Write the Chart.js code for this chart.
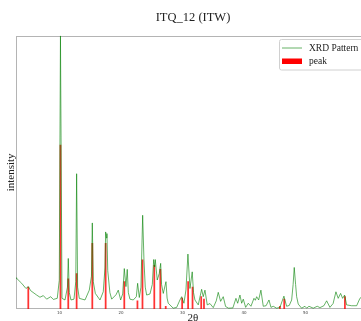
<!DOCTYPE html>
<html>
<head>
<meta charset="utf-8">
<script src="https://cdn.jsdelivr.net/npm/chart.js@4/dist/chart.umd.min.js"></script>
<style>
  html, body { margin: 0; padding: 0; background: #fff; overflow: hidden; }
  #wrap { width: 386px; height: 330px; }
</style>
</head>
<body>
<div id="wrap"><canvas id="c" width="386" height="330"></canvas></div>
<script>
// ---- data ----
const chartTitle = 'ITQ_12 (ITW)';
const xTicks = [10, 20, 30, 40, 50, 60];

// XRD pattern: 2θ positions and intensities
const patternX = [2.93, 3.04, 3.85, 4.55, 4.93, 5.32, 6.29, 6.83, 7.37, 7.92, 8.57, 9.0, 9.64, 9.97, 10.16, 10.41, 10.9, 11.3, 11.43, 11.6, 11.87, 12.36, 12.65, 12.79, 12.95, 13.22, 14.15, 14.85, 15.2, 15.34, 15.5, 15.83, 16.59, 17.12, 17.4, 17.51, 17.62, 17.72, 17.85, 18.2, 18.49, 19.19, 19.56, 19.95, 20.28, 20.54, 20.81, 21.02, 21.2, 21.46, 22.0, 22.5, 22.71, 22.98, 23.25, 23.53, 23.74, 23.95, 24.18, 24.72, 25.1, 25.32, 25.48, 25.58, 25.9, 26.23, 26.46, 26.6, 26.88, 27.32, 27.5, 27.69, 28.5, 29.06, 29.59, 29.87, 30.24, 30.57, 30.89, 31.22, 31.59, 31.8, 32.03, 32.57, 33.12, 33.38, 33.66, 34.03, 34.47, 35.01, 35.5, 35.82, 36.21, 36.63, 37.02, 37.5, 38.2, 38.7, 38.98, 39.35, 39.63, 39.89, 40.28, 40.7, 41.14, 41.63, 41.85, 42.07, 42.39, 42.76, 43.14, 43.6, 44.07, 44.39, 44.76, 45.32, 45.85, 46.5, 46.94, 47.37, 47.76, 48.0, 48.18, 48.4, 48.57, 48.83, 49.38, 49.92, 50.2, 50.57, 51.27, 51.92, 52.36, 53.0, 53.45, 53.98, 54.5, 54.96, 55.33, 55.72, 56.05, 56.37, 56.7, 57.51, 58.33, 58.86, 59.5, 60.5];
const patternY = [11.4, 11.2, 9.4, 7.5, 8.2, 6.7, 5.1, 4.3, 4.9, 3.6, 4.5, 3.5, 3.9, 10.5, 100, 3.9, 3.3, 8, 18.5, 6, 3.3, 3.6, 10, 49.5, 8, 3.9, 3.3, 6.9, 12, 31.5, 10, 5.7, 3.3, 6.3, 15, 28.2, 26, 27.6, 14, 6, 3.6, 5.2, 6.9, 3.3, 5.5, 14.8, 8.2, 14.5, 6, 3.6, 3.3, 4.5, 9.4, 4.2, 8, 34.3, 17.9, 8, 5.1, 5.5, 9, 18.1, 15.4, 18.1, 10.6, 13, 16.7, 9, 5.7, 10, 4, 2.1, 0.3, 0.6, 3.3, 4.5, 2.1, 7, 20.1, 7.5, 13.6, 6, 3.3, 1.5, 7.2, 4.5, 6.9, 1.5, 2, 0.5, 3, 6.1, 2.8, 4.5, 0.9, 0.3, 0.4, 3.9, 2.1, 5.1, 2.1, 3.6, 0.6, 2.1, 1, 3.9, 3.2, 4.5, 3.3, 6.9, 1, 1.2, 3.3, 0.6, 1, 0.3, 0.6, 4.7, 1, 1.3, 3.3, 9, 15.2, 9, 4.5, 1.8, 0.3, 1, 0.3, 1, 0.3, 1, 0.5, 1.2, 3, 0.6, 2, 6.3, 3.9, 5.7, 3.9, 5.1, 1.5, 1.2, 1.2, 3.9, 5, 4];

// reference peaks
const peakX = [4.93, 10.16, 11.43, 12.79, 15.34, 17.51, 20.54, 22.68, 23.5, 25.42, 26.4, 27.28, 29.95, 30.92, 31.64, 33.05, 33.5, 45.85, 46.55, 56.42];
const peakY = [8, 60, 11, 13, 24, 24, 10, 3, 18, 16, 14.5, 1, 4, 10, 8, 4.5, 3.6, 1, 3.6, 4.5];

const seriesNames = ['XRD Pattern', 'peak'];

const lineColor = 'rgba(0,128,0,0.6)';
const barColor = 'rgba(255,0,0,0.8)';
const serif = "'Liberation Serif', 'DejaVu Serif', serif";

const framePlugin = {
  id: 'frame',
  beforeDatasetsDraw(chart) {
    const {ctx, chartArea: a} = chart;
    ctx.save();
    ctx.strokeStyle = '#b4b4b4';
    ctx.lineWidth = 1;
    ctx.strokeRect(Math.round(a.left) + 0.5, Math.round(a.top) + 0.5,
                   Math.round(a.right - a.left) - 1, Math.round(a.bottom - a.top) - 1);
    ctx.restore();
  }
};

const legendPlugin = {
  id: 'boxLegend',
  afterDraw(chart) {
    const {ctx} = chart;
    const ds = chart.data.datasets;
    const x0 = 279, y0 = 39, w = 88, h = 30.5;
    ctx.save();
    ctx.fillStyle = 'rgba(255,255,255,0.8)';
    ctx.strokeStyle = '#d0d0d0';
    ctx.lineWidth = 1;
    ctx.beginPath();
    ctx.roundRect(x0 + 0.5, y0 + 0.5, w, h, 2);
    ctx.fill();
    ctx.stroke();
    // line item
    ctx.strokeStyle = ds[0].borderColor;
    ctx.lineWidth = 1;
    ctx.beginPath();
    ctx.moveTo(282, 48);
    ctx.lineTo(302, 48);
    ctx.stroke();
    // bar item
    ctx.fillStyle = 'red';
    ctx.fillRect(282, 58.5, 20, 5.5);
    ctx.fillStyle = '#222';
    ctx.font = "9.5px " + serif;
    ctx.textBaseline = 'middle';
    ctx.fillText(ds[0].label, 309, 48);
    ctx.fillText(ds[1].label, 309, 61.5);
    ctx.restore();
  }
};

new Chart(document.getElementById('c'), {
  data: {
    datasets: [
      {
        type: 'line',
        label: seriesNames[0],
        data: patternX.map((x, i) => ({x: x, y: patternY[i]})),
        borderColor: lineColor,
        borderWidth: 1,
        pointRadius: 0,
        tension: 0,
        fill: false,
        order: 0
      },
      {
        type: 'bar',
        label: seriesNames[1],
        data: peakX.map((x, i) => ({x: x, y: peakY[i]})),
        backgroundColor: barColor,
        borderWidth: 0,
        barThickness: 1.1,
        order: 1
      }
    ]
  },
  options: {
    responsive: false,
    animation: false,
    devicePixelRatio: 1,
    layout: { padding: 0 },
    plugins: {
      legend: { display: false },
      tooltip: { enabled: false },
      title: {
        display: true,
        text: chartTitle,
        color: '#222',
        font: { family: serif, size: 12.5, weight: 'normal' },
        padding: { top: 10.5, bottom: 10.2 }
      }
    },
    scales: {
      x: {
        type: 'linear',
        min: 2.93,
        max: 60.5,
        offset: false,
        afterBuildTicks: (s) => { s.ticks = xTicks.map(v => ({value: v})); },
        afterFit: (s) => { s.height = 21; },
        grid: { display: false, drawTicks: false },
        border: { display: false },
        ticks: {
          font: { size: 4, family: "'DejaVu Sans', sans-serif" },
          color: '#444',
          padding: 2,
          maxRotation: 0,
          autoSkip: false
        },
        title: {
          display: true,
          text: '2θ',
          color: '#222',
          font: { family: serif, size: 11 },
          padding: { top: 0, bottom: 5 }
        }
      },
      y: {
        type: 'linear',
        position: 'left',
        min: 0,
        max: 100,
        afterFit: (s) => { s.width = 16; },
        grid: { display: false, drawTicks: false },
        border: { display: false },
        ticks: { display: false },
        title: {
          display: true,
          text: 'intensity',
          color: '#222',
          font: { family: serif, size: 11 },
          padding: { top: 5, bottom: 0 }
        }
      },
      yRight: {
        type: 'linear',
        position: 'right',
        display: true,
        afterFit: (s) => { s.width = 16; },
        grid: { display: false, drawTicks: false },
        border: { display: false },
        ticks: { display: false }
      }
    }
  },
  plugins: [framePlugin, legendPlugin]
});
</script>
</body>
</html>
